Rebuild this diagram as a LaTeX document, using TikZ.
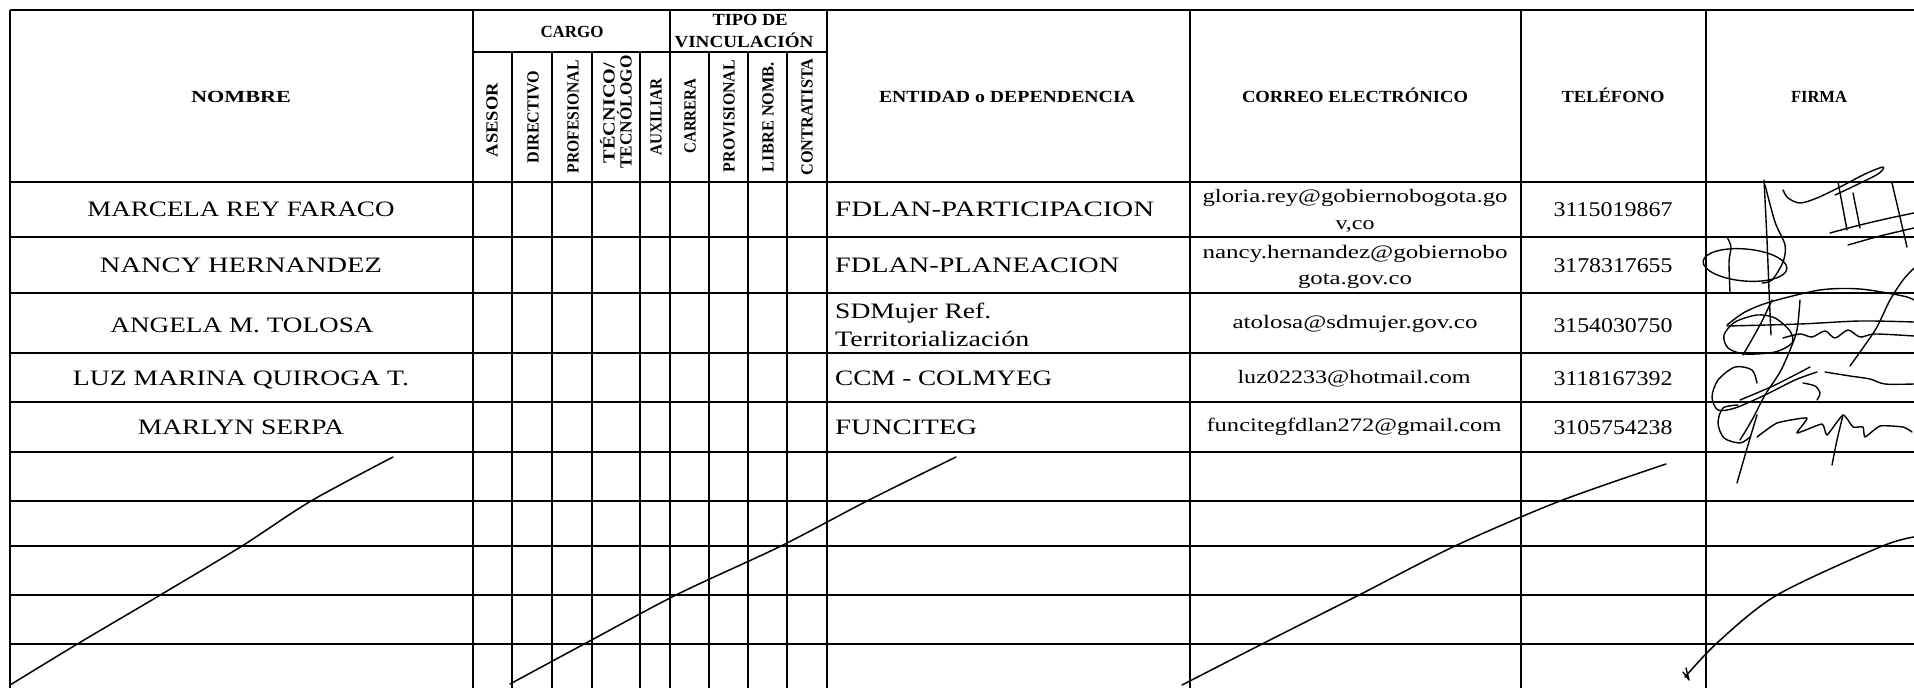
\documentclass[tikz,border=0pt]{standalone}
\usepackage{fontspec}
\setmainfont{Liberation Serif}
\usepackage{graphicx}
\newcommand\hx[2]{\resizebox{#1pt}{\height}{#2}}
\begin{document}
\begin{tikzpicture}[x=1pt,y=-1pt,
  vline/.style={line width=1.6pt, black},
  hline/.style={line width=2pt, black},
  hd/.style={inner sep=0pt, font=\bfseries\fontsize{17}{20}\selectfont, text height=11.3pt, text depth=0pt},
  vhd/.style={hd, rotate=90},
  nm/.style={inner sep=0pt, font=\fontsize{22}{26}\selectfont, text height=14.6pt, text depth=0pt},
  en/.style={nm, anchor=west},
  em/.style={inner sep=0pt, font=\fontsize{19}{22}\selectfont, text height=8.6pt, text depth=0pt},
  ph/.style={inner sep=0pt, font=\fontsize{21}{24}\selectfont, text height=14pt, text depth=0pt},
  pen/.style={line width=1.4pt, black, line cap=round, line join=round},
  cancel/.style={line width=1.5pt, black, line cap=round}]
\useasboundingbox (0,0) rectangle (1914,688);
\fill[white] (0,0) rectangle (1914,688);
\clip (0,0) rectangle (1914,688);

% grid
\foreach \x in {10,473,670,827,1190,1521,1706} \draw[vline] (\x,10) -- (\x,688);
\foreach \x in {512,552,592,640,709,748,787} \draw[vline] (\x,52) -- (\x,688);
\draw[hline] (10,10) -- (1914,10);
\draw[vline] (473,52) -- (827,52);
\foreach \y in {182,237,293,353,402,452,501,546,595,644} \draw[hline] (10,\y) -- (1914,\y);

% header
\node[hd] (hNombre) at (241,97) {\hx{100}{NOMBRE}};
\node[hd] (hCargo) at (572,32) {\hx{63}{CARGO}};
\node[hd] (hTipoA) at (750,20) {\hx{75}{TIPO DE}};
\node[hd] (hTipoB) at (744,42) {\hx{139}{VINCULACIÓN}};
\node[hd] (hEnt) at (1007,97) {\hx{256}{ENTIDAD o DEPENDENCIA}};
\node[hd] (hMail) at (1355,97) {\hx{226}{CORREO ELECTRÓNICO}};
\node[hd] (hTel) at (1613,97) {\hx{103}{TELÉFONO}};
\node[hd] (hFirma) at (1819,97) {\hx{56}{FIRMA}};

\node[vhd] (vAse) at (492,120) {\hx{74}{ASESOR}};
\node[vhd] (vDir) at (533,117) {\hx{93}{DIRECTIVO}};
\node[vhd] (vPro) at (573,117) {\hx{113}{PROFESIONAL}};
\node[vhd] (vTecA) at (609,113) {\hx{100}{TÉCNICO/}};
\node[vhd] (vTecB) at (626,112) {\hx{113}{TECNÓLOGO}};
\node[vhd] (vAux) at (656,117) {\hx{77}{AUXILIAR}};
\node[vhd] (vCar) at (690,116) {\hx{75}{CARRERA}};
\node[vhd] (vPrv) at (729,116) {\hx{112}{PROVISIONAL}};
\node[vhd] (vLib) at (768,117) {\hx{110}{LIBRE NOMB.}};
\node[vhd] (vCon) at (807,117) {\hx{117}{CONTRATISTA}};

% names
\node[nm] (n1) at (241,209) {\hx{307}{MARCELA REY FARACO}};
\node[nm] (n2) at (241,265) {\hx{282}{NANCY HERNANDEZ}};
\node[nm] (n3) at (242,325) {\hx{263}{ANGELA M. TOLOSA}};
\node[nm] (n4) at (241,378) {\hx{336}{LUZ MARINA QUIROGA T.}};
\node[nm] (n5) at (241,427) {\hx{206}{MARLYN SERPA}};

% entities
\node[en] (e1) at (835,209) {\hx{319}{FDLAN-PARTICIPACION}};
\node[en] (e2) at (835,265) {\hx{284}{FDLAN-PLANEACION}};
\node[en] (e3a) at (835,311) {\hx{156}{SDMujer Ref.}};
\node[en] (e3b) at (835,339) {\hx{194}{Territorialización}};
\node[en] (e4) at (835,378) {\hx{217}{CCM - COLMYEG}};
\node[en] (e5) at (835,427) {\hx{142}{FUNCITEG}};

% emails
\node[em] (m1a) at (1355,198) {\hx{305}{gloria.rey@gobiernobogota.go}};
\node[em] (m1b) at (1355,225) {\hx{39}{v,co}};
\node[em] (m2a) at (1355,254) {\hx{305}{nancy.hernandez@gobiernobo}};
\node[em] (m2b) at (1355,280) {\hx{114}{gota.gov.co}};
\node[em] (m3) at (1355,324) {\hx{245}{atolosa@sdmujer.gov.co}};
\node[em] (m4) at (1354,379) {\hx{233}{luz02233@hotmail.com}};
\node[em] (m5) at (1354,427) {\hx{295}{funcitegfdlan272@gmail.com}};

% phones
\node[ph] (p1) at (1613,209) {\hx{119}{3115019867}};
\node[ph] (p2) at (1613,265) {\hx{119}{3178317655}};
\node[ph] (p3) at (1613,325) {\hx{119}{3154030750}};
\node[ph] (p4) at (1613,378) {\hx{119}{3118167392}};
\node[ph] (p5) at (1613,427) {\hx{119}{3105754238}};

% cancel strokes over empty rows
\draw[cancel] plot[smooth] coordinates {(10,685) (79,643) (162,594) (242,546) (311,501) (393,457)};
\draw[cancel] plot[smooth] coordinates {(510,684) (586,643) (678,594) (781,546) (867,501) (956,457)};
\draw[cancel] plot[smooth] coordinates {(1182,685) (1264,643) (1361,594) (1455,546) (1560,501) (1666,464)};
\draw[cancel] plot[smooth] coordinates {(1685,677) (1718,642) (1777,595) (1880,547) (1914,537)};
\draw[pen] (1683,672) -- (1689,680) -- (1686,668);

% signatures (FIRMA)
% row 1
\draw[pen] plot[smooth] coordinates {(1764,180) (1767,240) (1769,290) (1771,335)};
\draw[pen] plot[smooth] coordinates {(1765,185) (1775,222) (1785,245) (1783,262) (1772,280) (1762,283)};
\draw[pen] plot[smooth] coordinates {(1783,190) (1788,198) (1800,203) (1817,198) (1840,187) (1865,174) (1883,167) (1878,174) (1850,188) (1835,195)};
\draw[pen] (1838,182) -- (1847,230);
\draw[pen] (1853,193) -- (1860,228);
\draw[pen] (1892,183) -- (1907,247);
\draw[pen] plot[smooth] coordinates {(1830,233) (1860,225) (1890,218) (1914,213)};
\draw[pen] plot[smooth] coordinates {(1848,245) (1880,236) (1914,228)};
% row 2
\draw[pen, rotate around={-5:(1745,265)}] (1745,265) ellipse [x radius=42pt, y radius=16pt];
\draw[pen] plot[smooth] coordinates {(1727,237) (1731,247) (1729,262) (1730,292)};
% row 3
\draw[pen] plot[smooth] coordinates {(1727,325) (1745,312) (1770,302) (1820,290) (1860,289) (1903,296) (1914,300)};
\draw[pen] plot[smooth cycle] coordinates {(1790,331) (1775,318) (1757,315) (1735,322) (1724,335) (1728,348) (1745,354) (1775,352) (1792,343)};
\draw[pen] plot[smooth] coordinates {(1727,326) (1800,324) (1860,321) (1914,322)};
\draw[pen] plot[smooth] coordinates {(1783,338) (1800,334) (1812,337) (1825,331) (1835,338) (1848,330) (1860,337) (1875,334) (1914,336)};
\draw[pen] plot[smooth] coordinates {(1772,300) (1760,325) (1743,355)};
\draw[pen] plot[smooth] coordinates {(1800,300) (1797,330) (1790,350) (1780,372) (1765,395) (1752,420) (1740,440)};
\draw[pen] plot[smooth] coordinates {(1850,366) (1865,345) (1877,327) (1890,300) (1903,280) (1914,268)};
% row 4
\draw[pen] plot[smooth] coordinates {(1757,383) (1752,370) (1735,367) (1718,380) (1712,397) (1718,410) (1735,408) (1765,395) (1795,380) (1817,372)};
\draw[pen] plot[smooth] coordinates {(1803,383) (1815,386) (1820,393) (1817,400)};
\draw[pen] plot[smooth] coordinates {(1825,372) (1850,376) (1870,379) (1885,384) (1914,384)};
\draw[pen] plot[smooth] coordinates {(1740,400) (1775,385) (1810,367)};
% row 5
\draw[pen] plot[smooth] coordinates {(1750,437) (1740,443) (1724,438) (1718,423) (1723,408) (1738,405)};
\draw[pen] plot[smooth, tension=0.3] coordinates {(1757,437) (1777,423) (1807,418) (1797,433) (1822,424) (1827,435) (1843,415) (1853,427) (1863,427) (1865,437) (1880,426) (1903,427) (1912,432)};
\draw[pen] plot[smooth] coordinates {(1757,415) (1748,445) (1737,483)};
\draw[pen] plot[smooth] coordinates {(1843,415) (1837,440) (1832,465)};
\end{tikzpicture}
\end{document}
